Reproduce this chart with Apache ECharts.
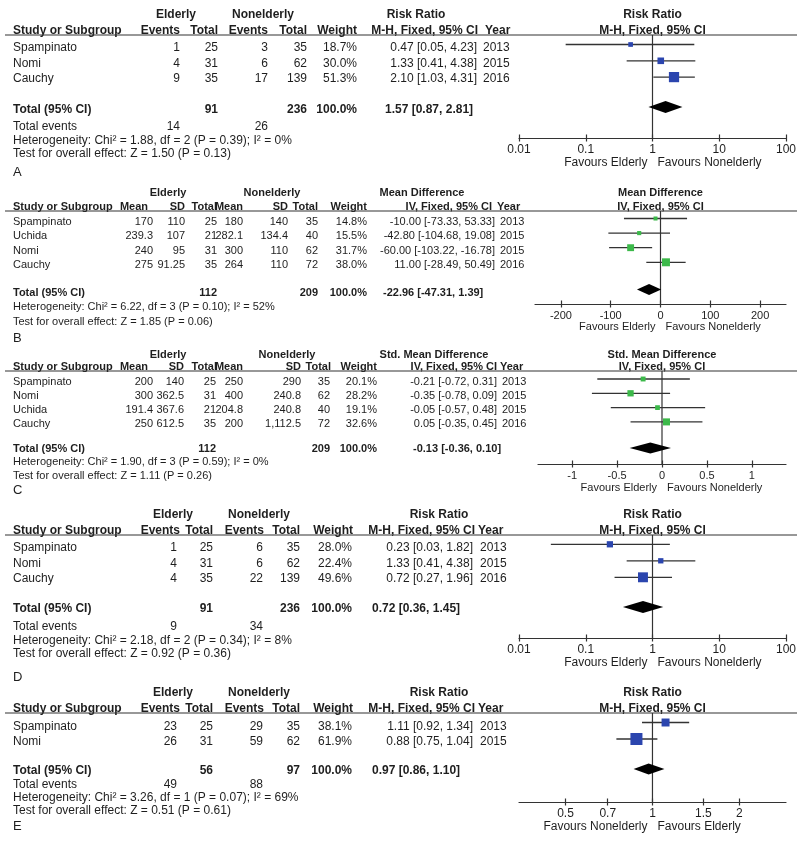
<!DOCTYPE html>
<html><head><meta charset="utf-8">
<script src="https://cdn.jsdelivr.net/npm/echarts@6/dist/echarts.min.js"></script>
<style>html,body{margin:0;padding:0;background:#fff}#c{width:800px;height:845px}</style>
</head><body><div id="c"></div>
<script>
// ===== Panel A: Risk Ratio =====
const studiesA = ['Spampinato', 'Nomi', 'Cauchy'];
const yearsA = [2013, 2015, 2016];
const eventsElderlyA = [1, 4, 9];
const totalElderlyA = [25, 31, 35];
const eventsNonelderlyA = [3, 6, 17];
const totalNonelderlyA = [35, 62, 139];
const weightsA = [18.7, 30.0, 51.3];
const estA = [0.47, 1.33, 2.10];
const lowA = [0.05, 0.41, 1.03];
const highA = [4.23, 4.38, 4.31];
const pooledA = [1.57, 0.87, 2.81];
const sumTotalsA = [91, 236];
const sumEventsA = [14, 26];
const hetA = [1.88, 2, 0.39, 0];
const testA = [1.50, 0.13];
const groupsA = ['Elderly', 'Nonelderly', 'Risk Ratio'];
const headsA = ['Events', 'Total', 'Events', 'Total', 'Weight', 'M-H, Fixed, 95% CI', 'Year'];
const plotTitleA = ['Risk Ratio', 'M-H, Fixed, 95% CI'];
const favoursA = ['Favours Elderly', 'Favours Nonelderly'];
const ticksA = null;

// ===== Panel B: Mean Difference =====
const studiesB = ['Spampinato', 'Uchida', 'Nomi', 'Cauchy'];
const yearsB = [2013, 2015, 2015, 2016];
const meanElderlyB = [170, 239.3, 240, 275];
const sdElderlyB = [110, 107, 95, 91.25];
const totalElderlyB = [25, 21, 31, 35];
const meanNonelderlyB = [180, 282.1, 300, 264];
const sdNonelderlyB = [140, 134.4, 110, 110];
const totalNonelderlyB = [35, 40, 62, 72];
const weightsB = [14.8, 15.5, 31.7, 38.0];
const estB = [-10.00, -42.80, -60.00, 11.00];
const lowB = [-73.33, -104.68, -103.22, -28.49];
const highB = [53.33, 19.08, -16.78, 50.49];
const pooledB = [-22.96, -47.31, 1.39];
const sumTotalsB = [112, 209];
const hetB = [6.22, 3, 0.10, 52];
const testB = [1.85, 0.06];
const groupsB = ['Elderly', 'Nonelderly', 'Mean Difference'];
const headsB = ['Mean', 'SD', 'Total', 'Mean', 'SD', 'Total', 'Weight', 'IV, Fixed, 95% CI', 'Year'];
const plotTitleB = ['Mean Difference', 'IV, Fixed, 95% CI'];
const favoursB = ['Favours Elderly', 'Favours Nonelderly'];
const ticksB = [-200, -100, 0, 100, 200];

// ===== Panel C: Std. Mean Difference =====
const studiesC = ['Spampinato', 'Nomi', 'Uchida', 'Cauchy'];
const yearsC = [2013, 2015, 2015, 2016];
const meanElderlyC = [200, 300, 191.4, 250];
const sdElderlyC = [140, 362.5, 367.6, 612.5];
const totalElderlyC = [25, 31, 21, 35];
const meanNonelderlyC = [250, 400, 204.8, 200];
const sdNonelderlyC = [290, 240.8, 240.8, 1112.5];
const totalNonelderlyC = [35, 62, 40, 72];
const weightsC = [20.1, 28.2, 19.1, 32.6];
const estC = [-0.21, -0.35, -0.05, 0.05];
const lowC = [-0.72, -0.78, -0.57, -0.35];
const highC = [0.31, 0.09, 0.48, 0.45];
const pooledC = [-0.13, -0.36, 0.10];
const sumTotalsC = [112, 209];
const hetC = [1.90, 3, 0.59, 0];
const testC = [1.11, 0.26];
const groupsC = ['Elderly', 'Nonelderly', 'Std. Mean Difference'];
const headsC = ['Mean', 'SD', 'Total', 'Mean', 'SD', 'Total', 'Weight', 'IV, Fixed, 95% CI', 'Year'];
const plotTitleC = ['Std. Mean Difference', 'IV, Fixed, 95% CI'];
const favoursC = ['Favours Elderly', 'Favours Nonelderly'];
const ticksC = [-1, -0.5, 0, 0.5, 1];

// ===== Panel D: Risk Ratio =====
const studiesD = ['Spampinato', 'Nomi', 'Cauchy'];
const yearsD = [2013, 2015, 2016];
const eventsElderlyD = [1, 4, 4];
const totalElderlyD = [25, 31, 35];
const eventsNonelderlyD = [6, 6, 22];
const totalNonelderlyD = [35, 62, 139];
const weightsD = [28.0, 22.4, 49.6];
const estD = [0.23, 1.33, 0.72];
const lowD = [0.03, 0.41, 0.27];
const highD = [1.82, 4.38, 1.96];
const pooledD = [0.72, 0.36, 1.45];
const sumTotalsD = [91, 236];
const sumEventsD = [9, 34];
const hetD = [2.18, 2, 0.34, 8];
const testD = [0.92, 0.36];
const groupsD = ['Elderly', 'Nonelderly', 'Risk Ratio'];
const headsD = ['Events', 'Total', 'Events', 'Total', 'Weight', 'M-H, Fixed, 95% CI', 'Year'];
const plotTitleD = ['Risk Ratio', 'M-H, Fixed, 95% CI'];
const favoursD = ['Favours Elderly', 'Favours Nonelderly'];
const ticksD = null;

// ===== Panel E: Risk Ratio =====
const studiesE = ['Spampinato', 'Nomi'];
const yearsE = [2013, 2015];
const eventsElderlyE = [23, 26];
const totalElderlyE = [25, 31];
const eventsNonelderlyE = [29, 59];
const totalNonelderlyE = [35, 62];
const weightsE = [38.1, 61.9];
const estE = [1.11, 0.88];
const lowE = [0.92, 0.75];
const highE = [1.34, 1.04];
const pooledE = [0.97, 0.86, 1.10];
const sumTotalsE = [56, 97];
const sumEventsE = [49, 88];
const hetE = [3.26, 1, 0.07, 69];
const testE = [0.51, 0.61];
const groupsE = ['Elderly', 'Nonelderly', 'Risk Ratio'];
const headsE = ['Events', 'Total', 'Events', 'Total', 'Weight', 'M-H, Fixed, 95% CI', 'Year'];
const plotTitleE = ['Risk Ratio', 'M-H, Fixed, 95% CI'];
const favoursE = ['Favours Nonelderly', 'Favours Elderly'];
const ticksE = [0.5, 0.7, 1, 1.5, 2];

const panelLetters = ['A', 'B', 'C', 'D', 'E'];

// ===== Layout (positions / styles only) =====
const colsDE = {groupX: [173, 259, 439], headX: [180, 213, 264, 300, 353, 475, 478], colX: [177, 213, 263, 300], weightX: 352, ciX: 473, yearX: 480, totCiX: 372};
const layouts = [
  {fs: 12, groupY: 15, headY: 31, lineY: 35, textRow0: 48, textStep: 15.5, textTotal: 109.5, markRow0: 44.5, markStep: 16.3, markTotal: 107,
   eventsY: 127, hetY: 141, testY: 154, letterY: 172, axisY: 138, favY: 163, plotL: 519, plotR: 786, xMin: 0.01, xMax: 100, diamondH: 6,
   groupX: [176, 263, 416], headX: [180, 218, 268, 307, 357, 478, 485], colX: [180, 218, 268, 307], weightX: 357, ciX: 477, yearX: 483, totCiX: 385},
  {fs: 11, groupY: 193, headY: 207, lineY: 211, textRow0: 221.5, textStep: 14.5, textTotal: 293, markRow0: 218.5, markStep: 14.6, markTotal: 289.5,
   hetY: 307, testY: 322, letterY: 338, axisY: 304, favY: 327, plotL: 535, plotR: 786, xMin: -252, xMax: 252, diamondH: 5.5,
   groupX: [168, 272, 422], headX: [148, 185, 217, 243, 288, 318, 367, 492, 497], colX: [153, 185, 217, 243, 288, 318], weightX: 367, ciX: 495, yearX: 500, totCiX: 383},
  {fs: 11, groupY: 355, headY: 367, lineY: 371, textRow0: 382, textStep: 14, textTotal: 448.5, markRow0: 379, markStep: 14.3, markTotal: 448,
   hetY: 462, testY: 476, letterY: 490, axisY: 464, favY: 488, plotL: 538, plotR: 786, xMin: -1.38, xMax: 1.38, diamondH: 5.5,
   groupX: [168, 287, 434], headX: [148, 184, 217, 243, 301, 331, 377, 497, 500], colX: [153, 184, 216, 243, 301, 330], weightX: 377, ciX: 497, yearX: 502, totCiX: 413},
  Object.assign({fs: 12, groupY: 515, headY: 531, lineY: 535, textRow0: 548, textStep: 15.5, textTotal: 609, markRow0: 544.3, markStep: 16.5, markTotal: 607,
   eventsY: 627, hetY: 641, testY: 654, letterY: 677, axisY: 638, favY: 663, plotL: 519, plotR: 786, xMin: 0.01, xMax: 100, diamondH: 6}, colsDE),
  Object.assign({fs: 12, groupY: 693, headY: 709, lineY: 713, textRow0: 726.5, textStep: 15.5, textTotal: 771, markRow0: 722.5, markStep: 16.5, markTotal: 769,
   eventsY: 785, hetY: 798, testY: 811, letterY: 826, axisY: 802, favY: 827, plotL: 519, plotR: 786, xMin: 0.345, xMax: 2.9, diamondH: 5.5}, colsDE)
];

const BLUE = '#2b45ae', GREEN = '#3cb94a';
const panels = [
  {kind: 'events', axisType: 'log', nullValue: 1, color: BLUE, studies: studiesA, years: yearsA, cols: [eventsElderlyA, totalElderlyA, eventsNonelderlyA, totalNonelderlyA],
   weights: weightsA, est: estA, low: lowA, high: highA, pooled: pooledA, sumTotals: sumTotalsA, sumEvents: sumEventsA, het: hetA, test: testA,
   groups: groupsA, heads: headsA, plotTitle: plotTitleA, favours: favoursA, ticks: ticksA},
  {kind: 'cont', axisType: 'value', nullValue: 0, color: GREEN, studies: studiesB, years: yearsB, cols: [meanElderlyB, sdElderlyB, totalElderlyB, meanNonelderlyB, sdNonelderlyB, totalNonelderlyB],
   weights: weightsB, est: estB, low: lowB, high: highB, pooled: pooledB, sumTotals: sumTotalsB, sumEvents: null, het: hetB, test: testB,
   groups: groupsB, heads: headsB, plotTitle: plotTitleB, favours: favoursB, ticks: ticksB},
  {kind: 'cont', axisType: 'value', nullValue: 0, color: GREEN, studies: studiesC, years: yearsC, cols: [meanElderlyC, sdElderlyC, totalElderlyC, meanNonelderlyC, sdNonelderlyC, totalNonelderlyC],
   weights: weightsC, est: estC, low: lowC, high: highC, pooled: pooledC, sumTotals: sumTotalsC, sumEvents: null, het: hetC, test: testC,
   groups: groupsC, heads: headsC, plotTitle: plotTitleC, favours: favoursC, ticks: ticksC},
  {kind: 'events', axisType: 'log', nullValue: 1, color: BLUE, studies: studiesD, years: yearsD, cols: [eventsElderlyD, totalElderlyD, eventsNonelderlyD, totalNonelderlyD],
   weights: weightsD, est: estD, low: lowD, high: highD, pooled: pooledD, sumTotals: sumTotalsD, sumEvents: sumEventsD, het: hetD, test: testD,
   groups: groupsD, heads: headsD, plotTitle: plotTitleD, favours: favoursD, ticks: ticksD},
  {kind: 'events', axisType: 'log', nullValue: 1, color: BLUE, studies: studiesE, years: yearsE, cols: [eventsElderlyE, totalElderlyE, eventsNonelderlyE, totalNonelderlyE],
   weights: weightsE, est: estE, low: lowE, high: highE, pooled: pooledE, sumTotals: sumTotalsE, sumEvents: sumEventsE, het: hetE, test: testE,
   groups: groupsE, heads: headsE, plotTitle: plotTitleE, favours: favoursE, ticks: ticksE}
];

const FONT = "'Liberation Sans', Arial, Helvetica, sans-serif";
const TXT = '#1e1e1e';
const LINE = '#333333';

const f2 = v => v.toFixed(2);
const ciText = (e, l, h) => f2(e) + ' [' + f2(l) + ', ' + f2(h) + ']';
const num = v => v.toLocaleString('en-US');
const tickFmt = v => String(parseFloat(Number(v).toPrecision(6)));

const chart = echarts.init(document.getElementById('c'), null, {renderer: 'canvas'});

const grids = [], xAxes = [], yAxes = [], series = [];

panels.forEach((P, p) => {
  const L = layouts[p];
  grids.push({left: L.plotL, width: L.plotR - L.plotL, top: L.lineY, height: L.axisY - L.lineY, containLabel: false, outerBoundsMode: 'none'});
  const base = {gridIndex: p, type: P.axisType, min: L.xMin, max: L.xMax, position: 'bottom', splitLine: {show: false}};
  if (P.axisType === 'log') base.logBase = 10;
  const tickCustom = P.ticks ? {customValues: P.ticks} : {};
  xAxes.push(Object.assign({}, base, {
    axisLine: {show: true, onZero: false, lineStyle: {color: LINE, width: 1.2}},
    axisTick: Object.assign({show: true, inside: false, length: 3.5, lineStyle: {color: LINE, width: 1.2}}, tickCustom),
    axisLabel: Object.assign({show: true, margin: 6, fontSize: L.fs, color: TXT, fontFamily: FONT, formatter: tickFmt}, tickCustom)
  }));
  xAxes.push(Object.assign({}, base, {
    axisLine: {show: false, onZero: false},
    axisTick: Object.assign({show: true, inside: true, length: 3.5, lineStyle: {color: LINE, width: 1.2}}, tickCustom),
    axisLabel: {show: false}
  }));
  yAxes.push({gridIndex: p, type: 'value', inverse: true, show: false,
    min: (L.lineY - L.markRow0) / L.markStep, max: (L.axisY - L.markRow0) / L.markStep});
  const totalIdx = (L.markTotal - L.markRow0) / L.markStep;

  // null (line of no effect)
  series.push({
    type: 'custom', coordinateSystem: 'cartesian2d', xAxisIndex: 2 * p, yAxisIndex: p, silent: true, clip: false,
    data: [[P.nullValue, 0]], encode: {x: 0, y: 1},
    renderItem: (params, api) => {
      const c = api.coord([api.value(0), api.value(1)]);
      const cs = params.coordSys;
      return {type: 'line', shape: {x1: c[0], y1: cs.y, x2: c[0], y2: cs.y + cs.height}, style: {stroke: LINE, lineWidth: 1.2}};
    }
  });
  // studies: CI line + weighted square
  series.push({
    type: 'custom', coordinateSystem: 'cartesian2d', xAxisIndex: 2 * p, yAxisIndex: p, silent: true, clip: false,
    data: P.studies.map((s, i) => [P.est[i], P.low[i], P.high[i], i, P.weights[i]]),
    encode: {x: [0, 1, 2], y: 3},
    renderItem: (params, api) => {
      const r = api.value(3);
      const pe = api.coord([api.value(0), r]);
      const pl = api.coord([api.value(1), r]);
      const ph = api.coord([api.value(2), r]);
      const s = 1.5 + 0.17 * api.value(4);
      return {type: 'group', children: [
        {type: 'line', shape: {x1: pl[0], y1: pl[1], x2: ph[0], y2: ph[1]}, style: {stroke: LINE, lineWidth: 1.3}},
        {type: 'rect', shape: {x: pe[0] - s / 2, y: pe[1] - s / 2, width: s, height: s}, style: {fill: P.color}}
      ]};
    }
  });
  // pooled diamond
  series.push({
    type: 'custom', coordinateSystem: 'cartesian2d', xAxisIndex: 2 * p, yAxisIndex: p, silent: true, clip: false,
    data: [[P.pooled[0], P.pooled[1], P.pooled[2], totalIdx]],
    encode: {x: [0, 1, 2], y: 3},
    renderItem: (params, api) => {
      const r = api.value(3);
      const c = api.coord([api.value(0), r]);
      const l = api.coord([api.value(1), r]);
      const h = api.coord([api.value(2), r]);
      const hh = L.diamondH;
      return {type: 'polygon', shape: {points: [[l[0], l[1]], [c[0], c[1] - hh], [h[0], h[1]], [c[0], c[1] + hh]]}, style: {fill: '#000'}};
    }
  });
});

chart.setOption({animation: false, backgroundColor: '#fff', grid: grids, xAxis: xAxes, yAxis: yAxes, series: series});

// ===== Table text and decorations =====
const G = [];
function T(x, y, s, align, size, bold) {
  G.push({type: 'text', silent: true, x: x, y: y, style: {text: String(s), fill: TXT, fontSize: size, fontWeight: bold ? 'bold' : 'normal',
    fontFamily: FONT, align: align || 'left', verticalAlign: 'middle'}});
}

panels.forEach((P, p) => {
  const L = layouts[p];
  const fs = L.fs;
  // header rows
  T(L.groupX[0], L.groupY, P.groups[0], 'center', fs, true);
  T(L.groupX[1], L.groupY, P.groups[1], 'center', fs, true);
  T(L.groupX[2], L.groupY, P.groups[2], 'center', fs, true);
  T(13, L.headY, 'Study or Subgroup', 'left', fs, true);
  P.heads.forEach((h, k) => T(L.headX[k], L.headY, h, k === P.heads.length - 1 ? 'left' : 'right', fs, true));
  G.push({type: 'line', silent: true, shape: {x1: 5, y1: L.lineY, x2: 797, y2: L.lineY}, style: {stroke: LINE, lineWidth: 1.2}});
  // plot titles
  const pc = (L.plotL + L.plotR) / 2;
  T(pc, L.groupY, P.plotTitle[0], 'center', fs, true);
  T(pc, L.headY, P.plotTitle[1], 'center', fs, true);
  // study rows
  P.studies.forEach((s, i) => {
    const y = L.textRow0 + i * L.textStep;
    T(13, y, s, 'left', fs, false);
    P.cols.forEach((col, k) => T(L.colX[k], y, num(col[i]), 'right', fs, false));
    T(L.weightX, y, P.weights[i].toFixed(1) + '%', 'right', fs, false);
    T(L.ciX, y, ciText(P.est[i], P.low[i], P.high[i]), 'right', fs, false);
    T(L.yearX, y, P.years[i], 'left', fs, false);
  });
  // total row
  const ty = L.textTotal;
  const totCols = P.kind === 'events' ? [1, 3] : [2, 5];
  T(13, ty, 'Total (95% CI)', 'left', fs, true);
  T(L.colX[totCols[0]], ty, P.sumTotals[0], 'right', fs, true);
  T(L.colX[totCols[1]], ty, P.sumTotals[1], 'right', fs, true);
  const wsum = P.weights.reduce((a, b) => a + b, 0);
  T(L.weightX, ty, wsum.toFixed(1) + '%', 'right', fs, true);
  T(L.totCiX, ty, ciText(P.pooled[0], P.pooled[1], P.pooled[2]), 'left', fs, true);
  if (P.sumEvents) {
    T(13, L.eventsY, 'Total events', 'left', fs, false);
    T(L.colX[0], L.eventsY, P.sumEvents[0], 'right', fs, false);
    T(L.colX[2], L.eventsY, P.sumEvents[1], 'right', fs, false);
  }
  T(13, L.hetY, 'Heterogeneity: Chi\u00B2 = ' + f2(P.het[0]) + ', df = ' + P.het[1] + ' (P = ' + f2(P.het[2]) + '); I\u00B2 = ' + P.het[3] + '%', 'left', fs, false);
  T(13, L.testY, 'Test for overall effect: Z = ' + f2(P.test[0]) + ' (P = ' + f2(P.test[1]) + ')', 'left', fs, false);
  T(13, L.letterY, panelLetters[p], 'left', 13, false);
  // favours labels around line of no effect
  const nx = chart.convertToPixel({xAxisIndex: 2 * p}, P.nullValue);
  T(nx - 5, L.favY, P.favours[0], 'right', fs, false);
  T(nx + 5, L.favY, P.favours[1], 'left', fs, false);
});

chart.setOption({graphic: G});
</script>
</body></html>
